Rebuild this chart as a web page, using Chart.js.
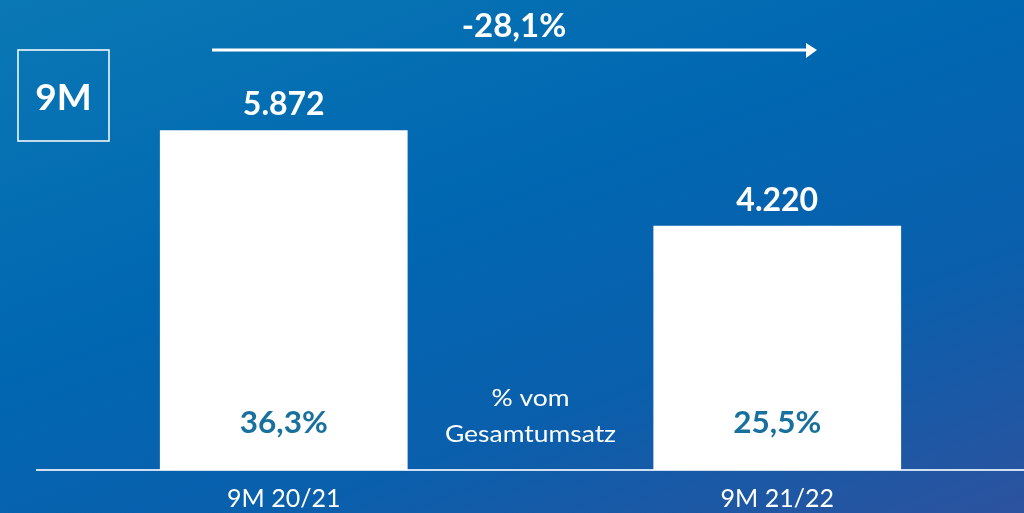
<!DOCTYPE html>
<html>
<head>
<meta charset="utf-8">
<script src="https://cdn.jsdelivr.net/npm/chart.js@4/dist/chart.umd.min.js"></script>
<style>
html,body{margin:0;padding:0;width:1024px;height:513px;overflow:hidden;
background:linear-gradient(160deg,#0a78b4 0%,#0067b1 40%,#0a5fac 70%,#2c529e 100%);}
#wrap{position:absolute;left:0;top:0;width:1024px;height:513px;}
</style>
</head>
<body>
<div id="wrap"><canvas id="c" width="1024" height="513"></canvas></div>
<script>
const categories = ["9M 20/21", "9M 21/22"];
const values = [5872, 4220];
const valueLabels = ["5.872", "4.220"];
const shareLabels = ["36,3%", "25,5%"];
const shareCaption = ["% vom", "Gesamtumsatz"];
const changeLabel = "-28,1%";
const periodLabel = "9M";

const FONT = "Lato, 'Open Sans', sans-serif";

function drawText(ctx, text, x, y, font, color, sx) {
  ctx.save();
  ctx.font = font;
  ctx.fillStyle = color;
  ctx.textAlign = 'center';
  ctx.textBaseline = 'middle';
  ctx.translate(x, y);
  ctx.scale(sx || 1, 1);
  ctx.fillText(text, 0, 0);
  ctx.restore();
}

const overlay = {
  id: 'overlay',
  afterDatasetsDraw(chart) {
    const ctx = chart.ctx;
    const meta = chart.getDatasetMeta(0);
    meta.data.forEach((bar, i) => {
      drawText(ctx, valueLabels[i], bar.x, bar.y - 25, 'bold 32px ' + FONT, '#ffffff', 1);
      drawText(ctx, shareLabels[i], bar.x, chart.chartArea.bottom - 47, 'bold 30px ' + FONT, '#17709d', 1.05);
    });
    const midX = (meta.data[0].x + meta.data[1].x) / 2;
    drawText(ctx, shareCaption[0], midX, 399, '23px ' + FONT, '#ffffff', 1.15);
    drawText(ctx, shareCaption[1], midX, 435, '23px ' + FONT, '#ffffff', 1.15);

    // period box
    ctx.save();
    ctx.strokeStyle = '#ffffff';
    ctx.lineWidth = 1.5;
    ctx.strokeRect(18, 50, 91, 91);
    ctx.restore();
    drawText(ctx, periodLabel, 63.5, 98.5, 'bold 37px ' + FONT, '#ffffff', 1);

    // change arrow
    ctx.save();
    ctx.fillStyle = '#ffffff';
    ctx.fillRect(212, 48.5, 596, 3);
    ctx.beginPath();
    ctx.moveTo(806, 43);
    ctx.lineTo(817, 50);
    ctx.lineTo(806, 58);
    ctx.closePath();
    ctx.fill();
    ctx.restore();
    drawText(ctx, changeLabel, 514, 26, 'bold 33px ' + FONT, '#ffffff', 1);
  }
};

new Chart(document.getElementById('c'), {
  type: 'bar',
  data: {
    labels: categories,
    datasets: [{
      data: values,
      backgroundColor: '#ffffff',
      borderWidth: 0,
      barPercentage: 0.502,
      categoryPercentage: 1.0
    }]
  },
  options: {
    responsive: false,
    animation: false,
    layout: { padding: { left: 37, right: 0, top: 7, bottom: 0 } },
    plugins: { legend: { display: false }, tooltip: { enabled: false } },
    scales: {
      x: {
        grid: { display: false, drawTicks: false },
        border: { display: true, color: '#cfdff2', width: 2 },
        ticks: { color: '#ffffff', font: { family: FONT, size: 25 }, padding: 14 },
        afterFit(scale) { scale.height = 43; }
      },
      y: {
        display: false,
        min: 0,
        max: 8000
      }
    }
  },
  plugins: [overlay]
});
</script>
</body>
</html>
